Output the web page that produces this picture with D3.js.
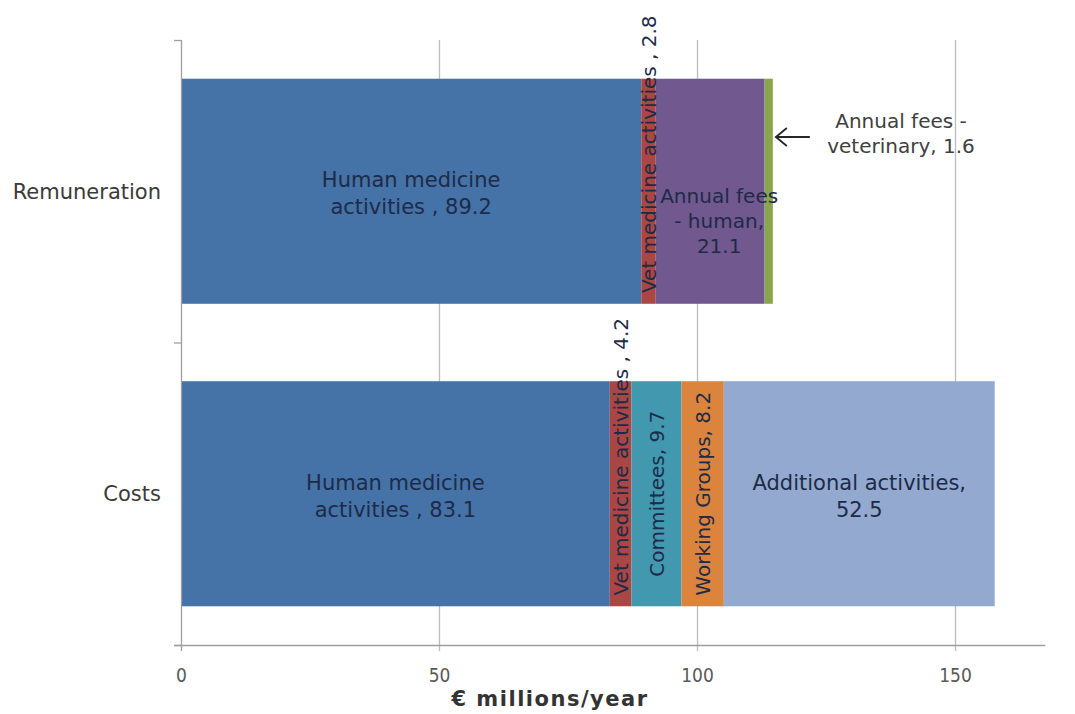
<!DOCTYPE html>
<html>
<head>
<meta charset="utf-8">
<script src="https://cdn.jsdelivr.net/npm/d3@7"></script>
<style>
  html, body { margin: 0; padding: 0; background: #ffffff; }
  svg { display: block; }
</style>
</head>
<body>
<svg id="chart" width="1075" height="714"></svg>
<script>
// ---- data ----
const categories = ["Remuneration", "Costs"];

const remunerationNames = ["Human medicine activities", "Vet medicine activities", "Annual fees - human", "Annual fees - veterinary"];
const remunerationValues = [89.2, 2.8, 21.1, 1.6];

const costsNames = ["Human medicine activities", "Vet medicine activities", "Committees", "Working Groups", "Additional activities"];
const costsValues = [83.1, 4.2, 9.7, 8.2, 52.5];

const xTicks = [0, 50, 100, 150];
const xTitle = "€ millions/year";

// ---- styling ----
const segmentColors = {
  "Human medicine activities": "#4572A7",
  "Vet medicine activities": "#AA4643",
  "Annual fees - human": "#71588F",
  "Annual fees - veterinary": "#89A54E",
  "Committees": "#4198AF",
  "Working Groups": "#DB843D",
  "Additional activities": "#93A9CF"
};

// how each segment's label is set: line breaks, rotation and nudges
const labelStyle = {
  "Human medicine activities": { lines: v => ["Human medicine", "activities , " + v] },
  "Vet medicine activities": { rotate: true, lines: v => ["Vet medicine activities , " + v], dy: -37 },
  "Annual fees - human": { lines: v => ["Annual fees", "- human,", "" + v], dx: 9, dy: 28, lh: 25, fs: 20 },
  "Committees": { rotate: true, lines: v => ["Committees, " + v] },
  "Working Groups": { rotate: true, lines: v => ["Working Groups, " + v] },
  "Additional activities": { lines: v => ["Additional activities,", "" + v] }
};

const FONT = "'DejaVu Sans', Verdana, sans-serif";
const FS = 21;        // horizontal labels
const FS_ROT = 20;    // rotated labels

const svg = d3.select("#chart");

const x = d3.scaleLinear().domain([0, 150]).range([181, 955]);
const y = d3.scaleBand().domain(categories).range([40, 645])
  .paddingInner(0.256).paddingOuter(0.128);

const plotTop = 40, plotBottom = 645;

// gridlines
svg.append("g")
  .selectAll("line")
  .data(xTicks.filter(t => t > 0))
  .join("line")
  .attr("x1", d => x(d) + 0.5).attr("x2", d => x(d) + 0.5)
  .attr("y1", plotTop).attr("y2", plotBottom + 6)
  .attr("stroke", "#bdbdbd").attr("stroke-width", 1.3);

// stacked rows
const rows = [
  { cat: "Remuneration", names: remunerationNames, values: remunerationValues },
  { cat: "Costs", names: costsNames, values: costsValues }
];

rows.forEach(row => {
  let acc = 0;
  const segs = row.values.map((v, i) => {
    const s = { name: row.names[i], v, x0: acc, x1: acc + v };
    acc += v;
    return s;
  });
  row.segs = segs;

  svg.append("g")
    .selectAll("rect")
    .data(segs)
    .join("rect")
    .attr("x", d => x(d.x0))
    .attr("y", y(row.cat))
    .attr("width", d => x(d.x1) - x(d.x0))
    .attr("height", y.bandwidth())
    .attr("fill", d => segmentColors[d.name]);
});

// axes
const axisColor = "#9e9e9e";
svg.append("line")
  .attr("x1", x(0) - 7).attr("x2", x(167.5))
  .attr("y1", plotBottom + 0.5).attr("y2", plotBottom + 0.5)
  .attr("stroke", axisColor).attr("stroke-width", 1.3);
svg.append("line")
  .attr("x1", x(0) + 0.5).attr("x2", x(0) + 0.5)
  .attr("y1", plotTop).attr("y2", plotBottom + 6)
  .attr("stroke", axisColor).attr("stroke-width", 1.3);

// category boundary ticks on the value axis side
const boundaries = [y.range()[0], y.range()[0] + y.step(), y.range()[1]];
svg.append("g")
  .selectAll("line")
  .data(boundaries)
  .join("line")
  .attr("x1", x(0) - 7).attr("x2", x(0))
  .attr("y1", d => d + 0.5).attr("y2", d => d + 0.5)
  .attr("stroke", axisColor).attr("stroke-width", 1.3);

// x tick labels
const xAxis = d3.axisBottom(x).tickValues(xTicks).tickSize(0).tickPadding(0);
const gx = svg.append("g").attr("transform", `translate(0, ${plotBottom + 23})`).call(xAxis);
gx.select(".domain").remove();
gx.selectAll("text")
  .attr("font-family", "'Liberation Sans Narrow', 'DejaVu Sans Condensed', 'Liberation Sans', sans-serif")
  .attr("font-size", 19)
  .attr("fill", "#595959");

// category labels
svg.append("g")
  .selectAll("text")
  .data(categories)
  .join("text")
  .attr("x", 161)
  .attr("y", d => y(d) + y.bandwidth() / 2)
  .attr("dy", "0.35em")
  .attr("text-anchor", "end")
  .attr("font-family", FONT)
  .attr("font-size", FS)
  .attr("fill", "#3a3a3a")
  .text(d => d);

// axis title
svg.append("text")
  .attr("x", 550).attr("y", 706)
  .attr("text-anchor", "middle")
  .attr("font-family", FONT)
  .attr("font-weight", "bold")
  .attr("font-size", 21)
  .attr("letter-spacing", 1.5)
  .attr("fill", "#333333")
  .text(xTitle);

// segment labels
const labelColor = "#1d2b48";
rows.forEach(row => {
  const cy = y(row.cat) + y.bandwidth() / 2;
  row.segs.forEach(s => {
    const st = labelStyle[s.name];
    if (!st) return;
    const cx = (x(s.x0) + x(s.x1)) / 2 + (st.dx || 0);
    const yy = cy + (st.dy || 0);
    const lines = st.lines(s.v);
    const lh = st.lh || 27;
    const t = svg.append("text")
      .attr("font-family", FONT)
      .attr("font-size", st.rotate ? FS_ROT : (st.fs || FS))
      .attr("fill", labelColor)
      .attr("text-anchor", "middle");
    if (st.rotate) {
      t.attr("transform", `translate(${cx},${yy}) rotate(-90)`)
        .attr("dy", "0.36em")
        .text(lines[0]);
    } else {
      lines.forEach((ln, i) => {
        t.append("tspan")
          .attr("x", cx)
          .attr("y", yy + (i - (lines.length - 1) / 2) * lh)
          .attr("dy", "0.45em")
          .text(ln);
      });
    }
  });
});

// call-out for the thin veterinary fees segment
const rem = rows[0];
const vetFee = rem.segs[rem.segs.length - 1];
const tipX = x(vetFee.x1) + 3;
const arrowY = 137;
const arrowG = svg.append("g").attr("stroke", "#262626").attr("stroke-width", 1.8).attr("fill", "none");
arrowG.append("line").attr("x1", tipX).attr("x2", tipX + 34).attr("y1", arrowY).attr("y2", arrowY);
arrowG.append("path").attr("d", `M${tipX + 11},${arrowY - 9} L${tipX},${arrowY} L${tipX + 11},${arrowY + 9}`);

const calloutLines = ["Annual fees -", "veterinary, " + vetFee.v];
const callout = svg.append("text")
  .attr("font-family", FONT)
  .attr("font-size", 20)
  .attr("fill", "#404040")
  .attr("text-anchor", "middle");
calloutLines.forEach((ln, i) => {
  callout.append("tspan").attr("x", 901).attr("y", 128 + i * 25).text(ln);
});
</script>
</body>
</html>
